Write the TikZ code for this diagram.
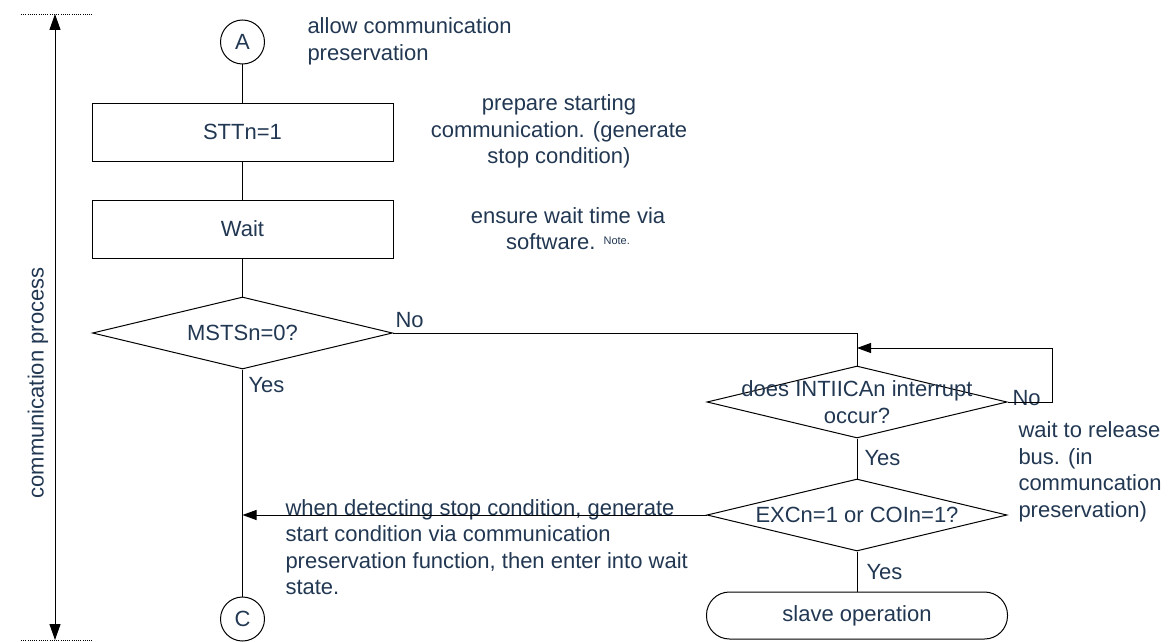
\documentclass[tikz,border=0pt]{standalone}
\usepackage{fontspec}
\setmainfont{Liberation Sans}
\usetikzlibrary{shapes.geometric,arrows.meta}
\definecolor{txt}{RGB}{33,55,82}
\begin{document}
\begin{tikzpicture}[x=1pt,y=-1pt, line width=1pt,
  every node/.style={font=\fontsize{22}{26.5}\selectfont, text=txt},
  conn/.style={circle,draw,minimum size=44pt,inner sep=0pt},
  proc/.style={rectangle,draw,minimum width=301pt,minimum height=58pt,inner sep=0pt},
  dec/.style={diamond,draw,minimum width=300pt,minimum height=72pt,inner sep=0pt},
  term/.style={rectangle,draw,rounded corners=23pt,minimum width=301pt,minimum height=47pt,inner sep=0pt},
  note/.style={inner sep=0pt},
  arr/.style={-{Triangle[length=14pt,width=10pt]}},
  dots/.style={dash pattern=on 1pt off 1.2pt, line width=0.8pt},
]
\useasboundingbox (0,0) rectangle (1170,642);

% flow nodes
\node[conn] (A) at (242.5,42) {A};
\node[proc] (s1) at (242.5,132) {STTn=1};
\node[proc] (s2) at (242.5,229) {Wait};
\node[dec] (d1) at (242.5,333) {};
\node[conn] (C) at (242.5,619) {C};
\node[dec] (d2) at (857,402) {};
\node[dec] (d3) at (857,515) {};
\node[term] (t) at (857,615.5) {slave operation};

% decision texts
\node[note,align=center] (d1t) at (d1) {MSTSn=0?};
\node[note,align=center] (d2t) at (d2) {does INTIICAn interrupt\\occur?};
\node[note] (d3t) at (d3) {EXCn=1 or COIn=1?};

% annotations
\node[note,align=left,anchor=west] (n1) at (307,41.5) {allow communication\\preservation};
\node[note,align=center] (n2) at (559,131.5) {prepare starting\\communication. (generate\\stop condition)};
\node[note,align=center] (n3) at (568,228.5) {ensure wait time via\\software. \raisebox{5pt}{\fontsize{11}{11}\selectfont Note.}};
\node[note,align=left,anchor=west] (n4) at (1018,472) {wait to release\\bus. (in\\communcation\\preservation)};
\node[note,align=left,anchor=west] (n5) at (285,547) {when detecting stop condition, generate\\start condition via communication\\preservation function, then enter into wait\\state.};
\node[note,rotate=90] (n6) at (38,383) {communication process};

% branch labels
\node[note,anchor=west] (y1) at (248,385) {Yes};
\node[note,anchor=west] (no1) at (395,320) {No};
\node[note,anchor=west] (y2) at (864,458) {Yes};
\node[note,anchor=west] (no2) at (1012,398) {No};
\node[note,anchor=west] (y3) at (866,572) {Yes};

% connectors
\draw (A) -- (s1);
\draw (s1) -- (s2);
\draw (s2) -- (d1);
\draw (d1.south) -- (C.north);
\coordinate (j1) at (d1.east -| d2.north);
\draw (d1.east) -- (j1) -- (d2.north);
\coordinate (j2) at (857,348);
\draw[arr] (d2.east) -- ++(45,0) |- (j2);
\draw (d2.south) -- (d3.north);
\draw (d3.south) -- (t.north);
\coordinate (j3) at (C.north |- d3.west);
\draw[arr] (d3.west) -- (j3);

% communication process range
\coordinate (top) at (55,14);
\coordinate (bot) at (55,640);
\draw[{Triangle[length=16pt,width=11pt]}-{Triangle[length=16pt,width=11pt]}] (top) -- (bot);
\draw[dots] (21,14) -- (93,14);
\draw[dots] (21,640) -- (93,640);
\end{tikzpicture}
\end{document}
